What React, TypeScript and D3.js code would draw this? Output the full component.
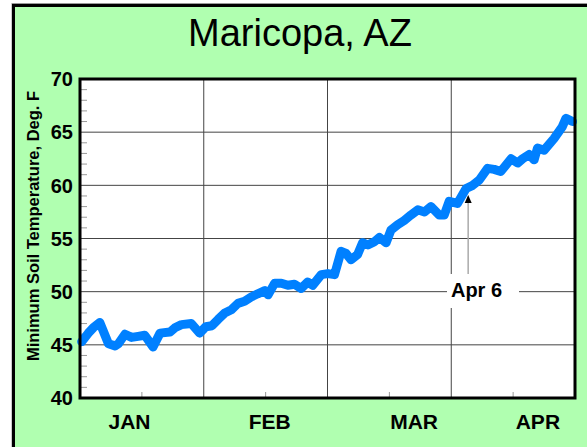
import React from "react";
import * as d3 from "d3";

// Day of year (0 = Jan 1) and minimum soil temperature (deg F)
const days = [
  0.4, 2, 3.2, 4.8, 6.9, 8.5, 9.3, 10.9, 12.5, 14.1, 15.7, 17.7, 19.4, 21.8, 23,
  24.6, 27, 29, 30.5, 32, 33.5, 35.1, 36.7, 38.3, 39.9, 41.5, 43.1, 44.8, 45.6,
  47.2, 48.8, 50.4, 52, 53.6, 55.2, 56.4, 58.5, 60.1, 61.7, 63.3, 64.5, 65.7,
  67.3, 68.5, 69.8, 71.4, 72.6, 74.2, 75.4, 77, 78.6, 80.2, 81.9, 83.5, 85.1,
  87.1, 88.3, 89.5, 91.5, 93.6, 95.2, 96.8, 98.8, 100.4, 102, 104.5, 106.1,
  107.3, 108.9, 110.1, 110.9, 112.5, 114.9, 116.9, 117.8, 119.4,
];
const temps = [
  45.3, 46.1, 46.6, 47.1, 45.1, 44.9, 45.1, 46.0, 45.7, 45.8, 45.9, 44.8, 46.1,
  46.2, 46.6, 46.9, 47.0, 46.1, 46.7, 46.8, 47.4, 48.0, 48.3, 48.9, 49.1, 49.5,
  49.8, 50.1, 49.7, 50.8, 50.8, 50.6, 50.7, 50.3, 50.9, 50.6, 51.6, 51.7, 51.6,
  53.8, 53.6, 53.0, 53.5, 54.6, 54.4, 54.7, 55.1, 54.6, 55.8, 56.3, 56.7, 57.2,
  57.7, 57.5, 58.0, 57.2, 57.2, 58.5, 58.3, 59.7, 60.0, 60.5, 61.6, 61.5, 61.3,
  62.5, 62.1, 62.5, 62.9, 62.4, 63.5, 63.3, 64.4, 65.5, 66.3, 66.0,
];

const yTicks = [40, 45, 50, 55, 60, 65, 70];
const monthGrid = [30, 60, 90];
const monthMinor = [15, 45, 75, 105];
const monthLabels = ["JAN", "FEB", "MAR", "APR"];
const monthLabelDays = [12, 46, 81, 111];

const annotDay = 94.1;
const annotText = "Apr 6";

const W = 587;
const H = 447;
const font = "Arial, 'Liberation Sans', sans-serif";

export default function App() {
  const x = d3.scaleLinear().domain([0, 120]).range([80, 575]);
  const y = d3.scaleLinear().domain([40, 70]).range([398, 79]);

  const pts = days.map((d, i) => [d, temps[i]] as [number, number]);
  const line = d3
    .line<[number, number]>()
    .x((d) => x(d[0]))
    .y((d) => y(d[1]));

  const minorY = d3.range(41, 70).filter((v) => v % 5 !== 0);
  const ax = x(annotDay);

  return (
    <div style={{ position: "absolute", left: 0, top: 0 }}>
      <svg width={W} height={H} style={{ display: "block" }}>
        <rect x={0} y={0} width={W} height={H} fill="#fff" />
        {/* outer frame */}
        <rect x={12} y={3.5} width={600} height={460} fill="none" stroke="#999" strokeWidth={1} />
        <rect x={13.5} y={5.5} width={600} height={460} fill="#b0ffb0" stroke="#000" strokeWidth={3} />

        <text x={300} y={46} textAnchor="middle" fontFamily={font} fontSize={38} fill="#000">
          Maricopa, AZ
        </text>

        {/* plot area */}
        <rect x={80} y={79} width={495} height={319} fill="#fff" />

        {yTicks.slice(1, -1).map((v) => (
          <line key={"gy" + v} x1={80} x2={575} y1={y(v)} y2={y(v)} stroke="#444" strokeWidth={1} />
        ))}
        {monthGrid.map((d) => (
          <line key={"gx" + d} x1={x(d)} x2={x(d)} y1={79} y2={398} stroke="#444" strokeWidth={1} />
        ))}
        {minorY.map((v) => (
          <line key={"my" + v} x1={80} x2={87} y1={y(v)} y2={y(v)} stroke="#999" strokeWidth={1} />
        ))}
        {monthMinor.map((d) => (
          <line key={"mx" + d} x1={x(d)} x2={x(d)} y1={398} y2={392} stroke="#999" strokeWidth={1} />
        ))}

        {/* annotation */}
        <line x1={ax} x2={ax} y1={200} y2={276} stroke="#aaa" strokeWidth={1.5} />
        <path d={`M${ax},${195} L${ax - 3.5},${203} L${ax + 3.5},${203} Z`} fill="#000" />
        <rect x={447} y={274} width={72} height={34} fill="#fff" />
        <text x={476.5} y={297} textAnchor="middle" fontFamily={font} fontWeight="bold" fontSize={20} fill="#000">
          {annotText}
        </text>

        <path
          d={line(pts) || ""}
          fill="none"
          stroke="#0080ff"
          strokeWidth={9}
          strokeLinejoin="round"
          strokeLinecap="round"
        />

        <rect x={80} y={79} width={495} height={319} fill="none" stroke="#000" strokeWidth={3} />

        {yTicks.map((v) => (
          <text
            key={"yl" + v}
            x={73}
            y={y(v)}
            dy="0.36em"
            textAnchor="end"
            fontFamily={font}
            fontWeight="bold"
            fontSize={20}
            fill="#000"
          >
            {v}
          </text>
        ))}
        {monthLabels.map((m, i) => (
          <text
            key={m}
            x={x(monthLabelDays[i])}
            y={429}
            textAnchor="middle"
            fontFamily={font}
            fontWeight="bold"
            fontSize={21}
            fill="#000"
          >
            {m}
          </text>
        ))}
        <text
          transform={`translate(33,226) rotate(-90)`}
          dy="0.36em"
          textAnchor="middle"
          fontFamily={font}
          fontWeight="bold"
          fontSize={16.5}
          fill="#000"
        >
          Minimum Soil Temperature, Deg. F
        </text>
      </svg>
    </div>
  );
}
